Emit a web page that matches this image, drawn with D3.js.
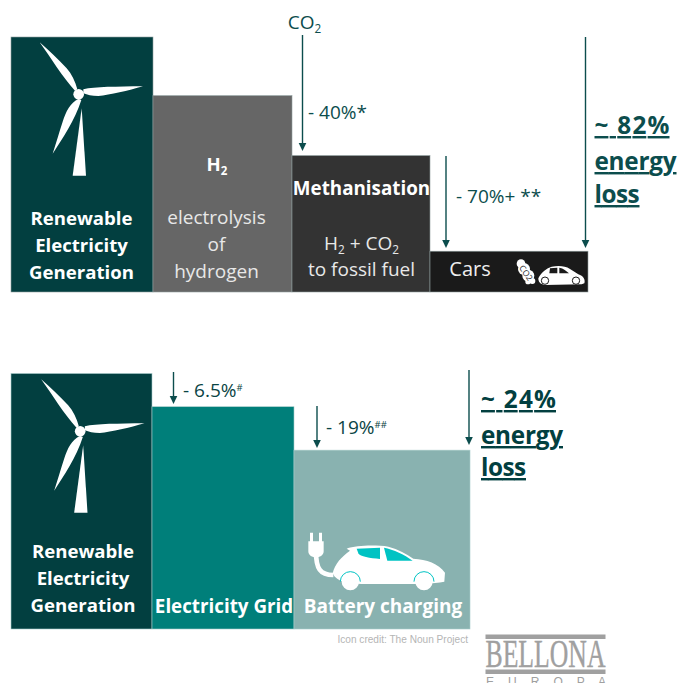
<!DOCTYPE html>
<html><head><meta charset="utf-8">
<script src="https://cdn.jsdelivr.net/npm/d3@7/dist/d3.min.js"></script>
<style>html,body{margin:0;padding:0;background:#fff;overflow:hidden}svg{display:block}text{font-family:"Open Sans",sans-serif}</style>
</head><body><div id="c"></div>
<script>
// ---- data (share of energy remaining, %) ----
const fuelCategories = ["Renewable Electricity Generation","H2 electrolysis of hydrogen","Methanisation","Cars"];
const fuelValues = [100, 77, 53.5, 16];
const electricCategories = ["Renewable Electricity Generation","Electricity Grid","Battery charging"];
const electricValues = [100, 87, 70];
const lossLabels = ["~ 82%","~ 24%"];
const stepLabels = ["- 40%*","- 70%+ **","- 6.5%","- 19%"];
const colorsFuel = ["#023f40","#666666","#333333","#1a1a1a"];
const colorsElectric = ["#023f40","#007f7a","#89b2b0"];

// ---- layout ----
const W=678,H=683, DARK="#0c4d4d";
const svg=d3.select("#c").append("svg").attr("width",W).attr("height",H);

const edgesFuel=[11,153,292,430,588], edgesElectric=[11,152,294,470];
const yFuel=d3.scaleLinear().domain([0,100]).range([292,37]);
const yElec=d3.scaleLinear().domain([0,100]).range([629,373.5]);

function bars(vals,edges,y,colors,cls,edge){
  svg.append("g").selectAll("rect").data(vals).join("rect").attr("class",cls)
    .attr("x",(d,i)=>edges[i]).attr("width",(d,i)=>edges[i+1]-edges[i])
    .attr("y",d=>y(d)).attr("height",d=>y(0)-y(d))
    .attr("fill",(d,i)=>colors[i])
    .attr("stroke",edge).attr("stroke-width",0.6);
}
bars(fuelValues,edgesFuel,yFuel,colorsFuel,"fuel","#8f9f9f");
bars(electricValues,edgesElectric,yElec,colorsElectric,"elec","#a9cccb");

function txt(x,y,s,o={}){
  const t=svg.append("text").attr("x",x).attr("y",y).attr("text-anchor",o.a||"middle")
    .attr("font-size",o.s||18).attr("font-weight",o.b?700:400).attr("fill",o.c||"#fff");
  if(o.u)t.attr("text-decoration","underline");
  if(o.f)t.style("font-family",o.f);
  if(o.len)t.attr("textLength",o.len).attr("lengthAdjust","spacing");
  (Array.isArray(s)?s:[[s]]).forEach(p=>{
    const sp=t.append("tspan").text(p[0]);
    if(p[1]==="sub")sp.attr("font-size",(o.s||18)*.62).attr("dy",(o.s||18)*.2);
    if(p[1]==="sup")sp.attr("font-size",(o.s||18)*.5).attr("dy",-(o.s||18)*.32);
    if(p[1]==="supn")sp.attr("font-size",(o.s||18)*.5);
    if(p[1]==="base")sp.attr("dy",-(o.s||18)*.2);
  });
  return t;
}
function arrow(x,y0,y1){
  svg.append("line").attr("x1",x).attr("x2",x).attr("y1",y0).attr("y2",y1-6).attr("stroke",DARK).attr("stroke-width",1.4);
  svg.append("path").attr("d",`M${x-3.8},${y1-8}L${x+3.8},${y1-8}L${x},${y1}Z`).attr("fill",DARK);
}

// turbine (drawn in 3x zoom space)
function turbine(dx,dy){
  const g=svg.append("g").attr("transform",`translate(${dx},${dy}) scale(${1/3})`).attr("fill","#fff");
  g.append("path").attr("d","M119,127C150,170 190,235 225,272L232,268C226,245 215,222 200,205C175,178 145,150 119,127Z");
  g.append("path").attr("d","M250,268C285,260 350,260 429,259C385,272 330,285 295,288C275,288 262,285 250,280Z");
  g.append("path").attr("d","M158,461C185,420 225,360 244,300L236,297C210,308 198,335 188,365C178,395 168,430 158,461Z");
  g.append("circle").attr("cx",236).attr("cy",283).attr("r",16);
  g.append("path").attr("d","M245,325L258,527L218,527Z");
}
turbine(0,0); turbine(1.5,337);

// Top chart labels
const gen=["Renewable","Electricity","Generation"];
gen.forEach((s,i)=>txt(81.5,225+i*27,s,{b:1,s:18.6}));
txt(217,171,[["H"],["2","sub"]],{b:1,s:18.6});
["electrolysis","of","hydrogen"].forEach((s,i)=>txt(216.5,224+i*27,s,{s:19,c:"#e8e8e8"}));
txt(361.5,195,fuelCategories[2],{b:1,s:18.8});
txt(361.5,250,[["H"],["2","sub"],[" + CO","base"],["2","sub"]],{s:19,c:"#e8e8e8"});
txt(361.5,276,"to fossil fuel",{s:19,c:"#e8e8e8"});
txt(470,276,fuelCategories[3],{s:20,c:"#eee"});

txt(304.5,29,[["CO"],["2","sub"]],{s:19,c:DARK});
arrow(302.5,35,151);
txt(308,119,stepLabels[0],{a:"start",s:19,c:DARK});
arrow(446,156,248);
txt(456,203,stepLabels[1],{a:"start",s:19,c:DARK});
arrow(585.5,37,248);
[lossLabels[0],"energy","loss"].forEach((s,i)=>txt(594.5,134+[0,36,69][i],s,{a:"start",b:1,s:24.3,u:1,c:DARK,len:[75,82,45][i]}));

// small car + CO2 cloud (zoom space)
const sc=svg.append("g").attr("transform","translate(500,245) scale(0.3333)").attr("fill","#fff");
sc.append("path").attr("d","M115,100C125,80 140,70 155,65C175,62 195,62 210,72L235,88C250,92 257,105 253,115L245,118L135,120C120,118 115,110 115,100Z");
[[135,107],[228,107]].forEach(c=>sc.append("circle").attr("cx",c[0]).attr("cy",c[1]).attr("r",11).attr("stroke","#1a1a1a").attr("stroke-width",3));
sc.append("path").attr("d","M150,70L172,68L172,85L148,85ZM178,68C190,70 200,78 207,85L178,85Z").attr("fill","#1a1a1a");
[[63,56,13],[72,72,18],[85,92,18],[97,108,9],[84,110,8]].forEach(c=>sc.append("circle").attr("cx",c[0]).attr("cy",c[1]).attr("r",c[2]));
txt(526,276,"CO2",{s:8.5,c:"#1a1a1a"}).attr("transform","rotate(55 526 273)");

// Bottom chart labels
gen.forEach((s,i)=>txt(83,558+i*27,s,{b:1,s:18.6}));
txt(224,613,electricCategories[1],{b:1,s:18.8});
txt(383,613,electricCategories[2],{b:1,s:19});
arrow(173.5,372,404);
txt(183,397,[[stepLabels[2]],["#","sup"]],{a:"start",s:19,c:"#0a4444"});
arrow(317,406,448);
txt(326,434,[[stepLabels[3]],["#","sup"],["#","supn"]],{a:"start",s:19,c:"#0a4444"});
arrow(469,370,445);
[lossLabels[1],"energy","loss"].forEach((s,i)=>txt(481,408+[0,36,68][i],s,{a:"start",b:1,s:24.3,u:1,c:"#023f40",len:[75,82,45][i]}));

// EV charging icon (zoom 4 space)
const ev=svg.append("g").attr("transform","translate(290,360) scale(0.3333)");
ev.append("path").attr("fill","none").attr("stroke","#fff").attr("stroke-width",14).attr("d","M78,575C78,625 90,645 130,645");
ev.append("path").attr("fill","#fff").attr("d","M60,518h9v26h18v-26h9v26h5v30c0,10 -8,18 -23,18c-15,0 -23,-8 -23,-18v-30h5Z");
ev.append("path").attr("fill","#fff").attr("d","M128,640C135,610 155,590 180,572L170,566C200,555 260,555 295,560C325,568 350,582 370,596C410,598 445,610 465,638L463,665C430,672 380,672 330,672L215,672C180,672 140,668 128,640Z");
ev.append("path").attr("fill","#00c3c3").attr("d","M200,566L270,563L270,597C240,595 210,590 205,580Z");
ev.append("path").attr("fill","#00c3c3").attr("d","M282,563C310,568 345,585 368,602L292,602Z");
[[181,665],[402,665]].forEach(c=>{
  ev.append("path").attr("fill","none").attr("stroke","#00c3c3").attr("stroke-width",3).attr("d",`M${c[0]-30},${c[1]}A30,30 0 0 1 ${c[0]+30},${c[1]}`);
  ev.append("circle").attr("cx",c[0]).attr("cy",c[1]).attr("r",26).attr("fill","#fff");
});

// credit and logo
txt(468,643,"Icon credit: The Noun Project",{a:"end",s:10.1,c:"#b5b5b5",f:"Liberation Sans"});
[634.5,669.5].forEach(y=>svg.append("rect").attr("x",485.5).attr("y",y).attr("width",120).attr("height",4.5).attr("fill","#a0a0a0"));
txt(485.5,666.5,"BELLONA",{a:"start",s:39,c:"#a0a0a0",f:"Liberation Serif"}).attr("textLength",120).attr("lengthAdjust","spacingAndGlyphs").attr("stroke","#a0a0a0").attr("stroke-width",0.4);
txt(486,686,"E U R O P A",{a:"start",s:12,c:"#a0a0a0",f:"Liberation Sans"}).attr("textLength",120);
</script></body></html>
